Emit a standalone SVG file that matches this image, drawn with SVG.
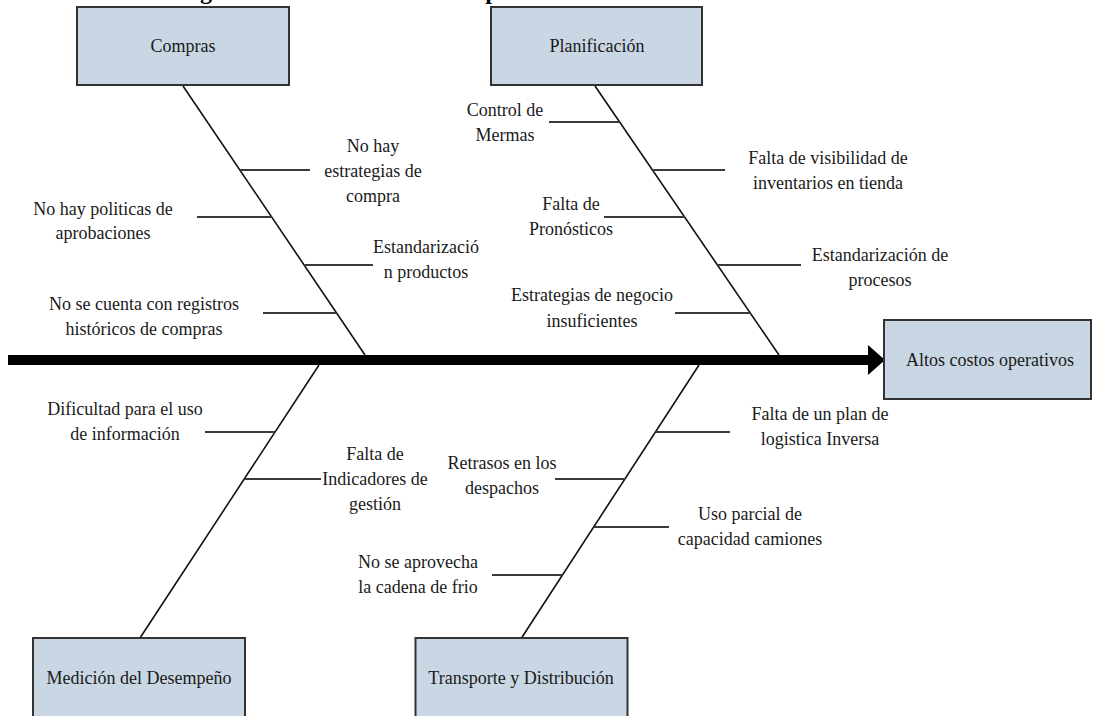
<svg xmlns="http://www.w3.org/2000/svg" width="1093" height="716" viewBox="0 0 1093 716">
  <style>
    text { font-family: "Liberation Serif", "Times New Roman", serif; font-size: 18px; fill: #1a1a1a; text-anchor: middle; }
    .box { fill: #c9d6e4; stroke: #333333; stroke-width: 2; }
    .bone { stroke: #111111; stroke-width: 1.6; fill: none; }
    .branch { stroke: #3a3a3a; stroke-width: 1.8; fill: none; }
    .spine { stroke: #000000; stroke-width: 10; fill: none; }
    .title { font-weight: bold; font-size: 24px; fill: #000000; }
  </style>
  <defs>
    <marker id="head" markerUnits="userSpaceOnUse" markerWidth="18" markerHeight="30" refX="2" refY="15" orient="auto">
      <path d="M0,0 L17,15 L0,30 Z" fill="#000000"/>
    </marker>
  </defs>

  <rect width="1093" height="716" fill="#ffffff"/>

  <!-- title line, clipped by the top edge -->
  <g id="title">
    <text class="title" x="206" y="-1">g</text>
    <text class="title" x="492" y="-1">p</text>
  </g>

  <!-- spine, bones and branches -->
  <g id="connectors">
    <line class="spine" x1="8" y1="360" x2="870" y2="360" marker-end="url(#head)"/>

    <line class="bone" x1="183" y1="86" x2="365" y2="355"/>
    <line class="bone" x1="595" y1="86" x2="779" y2="355"/>
    <line class="bone" x1="319" y1="365" x2="140" y2="638"/>
    <line class="bone" x1="699" y1="365" x2="521.5" y2="638"/>

    <!-- Compras -->
    <line class="branch" x1="239.8" y1="170" x2="310" y2="170"/>
    <line class="branch" x1="197" y1="217" x2="271.6" y2="217"/>
    <line class="branch" x1="304.1" y1="265" x2="373" y2="265"/>
    <line class="branch" x1="263" y1="313" x2="336.6" y2="313"/>

    <!-- Planificación -->
    <line class="branch" x1="549" y1="122" x2="619.6" y2="122"/>
    <line class="branch" x1="652.5" y1="170" x2="725" y2="170"/>
    <line class="branch" x1="604" y1="217" x2="684.6" y2="217"/>
    <line class="branch" x1="717.4" y1="265" x2="801" y2="265"/>
    <line class="branch" x1="675" y1="313" x2="750.3" y2="313"/>

    <!-- Medición del Desempeño -->
    <line class="branch" x1="205" y1="432" x2="275.1" y2="432"/>
    <line class="branch" x1="244.3" y1="479" x2="321" y2="479"/>

    <!-- Transporte y Distribución -->
    <line class="branch" x1="655.4" y1="432" x2="730" y2="432"/>
    <line class="branch" x1="555" y1="479" x2="624.9" y2="479"/>
    <line class="branch" x1="593.7" y1="527" x2="669" y2="527"/>
    <line class="branch" x1="492" y1="575" x2="562.5" y2="575"/>
  </g>

  <!-- category and effect boxes -->
  <g id="compras">
    <rect class="box" x="77" y="7" width="212" height="78"/>
    <text x="183" y="52">Compras</text>
  </g>
  <g id="planificacion">
    <rect class="box" x="491" y="7" width="211" height="78"/>
    <text x="597" y="52">Planificación</text>
  </g>
  <g id="altos-costos">
    <rect class="box" x="884" y="320" width="207" height="79"/>
    <text x="990" y="366">Altos costos operativos</text>
  </g>
  <g id="medicion">
    <rect class="box" x="33" y="638" width="212" height="82"/>
    <text x="139" y="684">Medición del Desempeño</text>
  </g>
  <g id="transporte">
    <rect class="box" x="415.5" y="638" width="212" height="82"/>
    <text x="521" y="684">Transporte y Distribución</text>
  </g>

  <!-- causes: Compras -->
  <g id="c-estrategias-compra">
    <text x="373" y="152">No hay</text>
    <text x="373" y="177">estrategias de</text>
    <text x="373" y="202">compra</text>
  </g>
  <g id="c-politicas">
    <text x="103" y="215">No hay politicas de</text>
    <text x="103" y="239">aprobaciones</text>
  </g>
  <g id="c-estandarizacion-productos">
    <text x="426" y="253">Estandarizació</text>
    <text x="426" y="278">n productos</text>
  </g>
  <g id="c-registros">
    <text x="144" y="310">No se cuenta con registros</text>
    <text x="144" y="335">históricos de compras</text>
  </g>

  <!-- causes: Planificación -->
  <g id="c-mermas">
    <text x="505" y="116">Control de</text>
    <text x="505" y="141">Mermas</text>
  </g>
  <g id="c-visibilidad">
    <text x="828" y="164">Falta de visibilidad de</text>
    <text x="828" y="189">inventarios en tienda</text>
  </g>
  <g id="c-pronosticos">
    <text x="571" y="210">Falta de</text>
    <text x="571" y="235">Pronósticos</text>
  </g>
  <g id="c-procesos">
    <text x="880" y="261">Estandarización de</text>
    <text x="880" y="286">procesos</text>
  </g>
  <g id="c-negocio">
    <text x="592" y="301">Estrategias de negocio</text>
    <text x="592" y="327">insuficientes</text>
  </g>

  <!-- causes: Medición del Desempeño -->
  <g id="c-informacion">
    <text x="125" y="415">Dificultad para el uso</text>
    <text x="125" y="440">de información</text>
  </g>
  <g id="c-indicadores">
    <text x="375" y="460">Falta de</text>
    <text x="375" y="485">Indicadores de</text>
    <text x="375" y="510">gestión</text>
  </g>

  <!-- causes: Transporte y Distribución -->
  <g id="c-logistica">
    <text x="820" y="420">Falta de un plan de</text>
    <text x="820" y="445">logistica Inversa</text>
  </g>
  <g id="c-despachos">
    <text x="502" y="469">Retrasos en los</text>
    <text x="502" y="494">despachos</text>
  </g>
  <g id="c-camiones">
    <text x="750" y="520">Uso parcial de</text>
    <text x="750" y="545">capacidad camiones</text>
  </g>
  <g id="c-frio">
    <text x="418" y="568">No se aprovecha</text>
    <text x="418" y="593">la cadena de frio</text>
  </g>
</svg>
